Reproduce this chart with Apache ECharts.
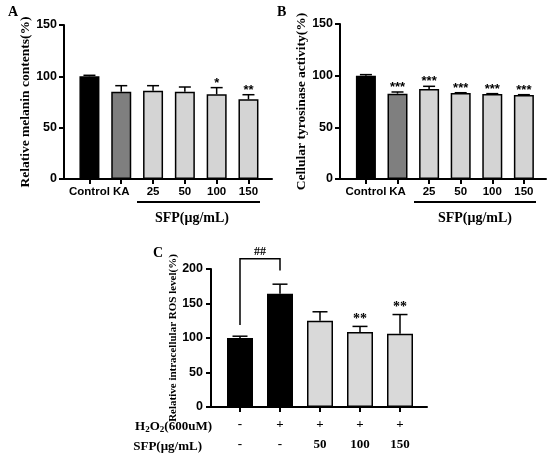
<!DOCTYPE html>
<html>
<head>
<meta charset="utf-8">
<script src="https://cdn.jsdelivr.net/npm/echarts@6/dist/echarts.min.js"></script>
<style>
  html, body { margin: 0; padding: 0; background: #fff; }
  #main { width: 550px; height: 455px; }
</style>
</head>
<body>
<div id="main"></div>
<script>
// panel A / B categories
var groupsAB = ["Control", "KA", "25", "50", "100", "150"];
// panel A: melanin contents
var meanA = [100, 85, 86, 85, 82.5, 77.6];
var errA = [1, 5.9, 4.9, 4.6, 6.5, 4.5];
var starA = ["", "", "", "", "*", "**"];
// panel B: tyrosinase activity
var meanB = [100, 82.6, 87.1, 83.2, 82.3, 81.3];
var errB = [1, 1.6, 2.6, 0.3, 0.3, 0.3];
var starB = ["", "***", "***", "***", "***", "***"];
// panel C: ROS level
var h2o2C = ["-", "+", "+", "+", "+"];
var sfpC = ["-", "-", "50", "100", "150"];
var meanC = [100, 164, 125, 108.8, 106];
var errC = [2.6, 14, 13, 8, 28];
var starC = ["", "", "", "**", "**"];
var bracketC = [0, 1, 119, 198, 215]; // from bar, to bar, left leg bottom, right leg bottom, top

var colorsAB = ["#000000", "#7f7f7f", "#d4d4d4", "#d4d4d4", "#d4d4d4", "#d4d4d4"];
var colorsC = ["#000000", "#000000", "#d9d9d9", "#d9d9d9", "#d9d9d9"];

var serif = "Liberation Serif";
var sans = "Liberation Sans";

var chart = echarts.init(document.getElementById("main"));

function idx(n) {
  var a = [];
  for (var i = 0; i < n; i++) a.push(i);
  return a;
}

function xAxisFor(gi, n, min, max, labels, labelOpt) {
  return {
    type: "value", gridIndex: gi, min: min, max: max,
    splitLine: { show: false },
    axisLine: { show: true, onZero: false, lineStyle: { color: "#000", width: 2 } },
    axisTick: { show: true, customValues: idx(n), length: 5, lineStyle: { color: "#000", width: 2 } },
    axisLabel: Object.assign({
      customValues: idx(n),
      formatter: function (v) { return labels(Math.round(v)); },
      color: "#000", fontFamily: sans, fontWeight: "bold", fontSize: 11.5, margin: 7
    }, labelOpt || {})
  };
}

function yAxisFor(gi, max, interval, name, nameSize, nameGap, labelMargin) {
  return {
    type: "value", gridIndex: gi, min: 0, max: max, interval: interval,
    name: name, nameLocation: "middle", nameGap: nameGap,
    nameTextStyle: { color: "#000", fontFamily: serif, fontWeight: "bold", fontSize: nameSize },
    splitLine: { show: false },
    axisLine: { show: true, onZero: false, lineStyle: { color: "#000", width: 2 } },
    axisTick: { show: true, length: 5, lineStyle: { color: "#000", width: 2 } },
    axisLabel: { color: "#000", fontFamily: sans, fontWeight: "bold", fontSize: 12.5, margin: labelMargin }
  };
}

function barSeries(gi, means, colors, width) {
  return {
    type: "bar", xAxisIndex: gi, yAxisIndex: gi, barWidth: width,
    data: means.map(function (v, i) {
      return { value: [i, v], itemStyle: { color: colors[i], borderColor: "#000", borderWidth: 1.5 } };
    }),
    z: 2
  };
}

function errSeries(gi, means, errs, stars, cap, starFont, starSize, starGap) {
  return {
    type: "custom", xAxisIndex: gi, yAxisIndex: gi, z: 3,
    data: means.map(function (v, i) { return [i, v, v + errs[i]]; }),
    renderItem: function (params, api) {
      var i = api.value(0);
      var base = api.coord([i, api.value(1)]);
      var top = api.coord([i, api.value(2)]);
      var children = [
        { type: "line", shape: { x1: base[0], y1: base[1], x2: top[0], y2: top[1] }, style: { stroke: "#000", lineWidth: 1.5 } },
        { type: "line", shape: { x1: top[0] - cap / 2, y1: top[1], x2: top[0] + cap / 2, y2: top[1] }, style: { stroke: "#000", lineWidth: 1.5 } }
      ];
      if (stars[i]) {
        children.push({
          type: "text",
          style: {
            x: top[0], y: top[1] - starGap, text: stars[i], align: "center", verticalAlign: "bottom",
            fill: "#000", font: "bold " + starSize + "px " + starFont
          }
        });
      }
      return { type: "group", children: children };
    }
  };
}

var option = {
  animation: false,
  backgroundColor: "#fff",
  grid: [
    { left: 64, top: 25, width: 208, height: 154 },
    { left: 340, top: 24, width: 206, height: 155 },
    { left: 211, top: 269, width: 216, height: 141 }
  ],
  xAxis: [
    xAxisFor(0, 6, -0.8, 5.74, function (i) { return groupsAB[i]; }),
    xAxisFor(1, 6, -0.82, 5.7, function (i) { return groupsAB[i]; }),
    xAxisFor(2, 5, -0.725, 4.675, function (i) { return h2o2C[i] + "\n" + sfpC[i]; },
      { fontFamily: serif, fontSize: 13, lineHeight: 20, margin: 8 })
  ],
  yAxis: [
    yAxisFor(0, 150, 50, "Relative melanin contents(%)", 13.5, 29, 7),
    yAxisFor(1, 150, 50, "Cellular tyrosinase activity(%)", 13.5, 30, 7),
    yAxisFor(2, 200, 50, "Relative intracellular ROS level(%)", 11, 27, 8)
  ],
  series: [
    barSeries(0, meanA, colorsAB, 20),
    errSeries(0, meanA, errA, starA, 12, sans, 13, -2),
    barSeries(1, meanB, colorsAB, 20),
    errSeries(1, meanB, errB, starB, 12, sans, 13, -2),
    barSeries(2, meanC, colorsC, 26),
    errSeries(2, meanC, errC, starC, 15, serif, 14, 0),
    {
      type: "custom", xAxisIndex: 2, yAxisIndex: 2, z: 3, clip: false,
      data: [bracketC],
      renderItem: function (params, api) {
        var a = api.coord([api.value(0), api.value(2)]);
        var aTop = api.coord([api.value(0), api.value(4)]);
        var bTop = api.coord([api.value(1), api.value(4)]);
        var b = api.coord([api.value(1), api.value(3)]);
        return {
          type: "group",
          children: [
            { type: "polyline", shape: { points: [a, aTop, bTop, b] }, style: { stroke: "#000", lineWidth: 1.5, fill: null } },
            { type: "text", style: { x: (aTop[0] + bTop[0]) / 2, y: aTop[1] - 1, text: "##", align: "center", verticalAlign: "bottom", fill: "#000", font: "bold 12px " + serif } }
          ]
        };
      }
    }
  ],
  graphic: [
    { type: "text", left: 8, top: 5, style: { text: "A", font: "bold 14px " + serif, fill: "#000" } },
    { type: "text", left: 277, top: 5, style: { text: "B", font: "bold 14px " + serif, fill: "#000" } },
    { type: "text", left: 153, top: 246, style: { text: "C", font: "bold 14px " + serif, fill: "#000" } },
    { type: "line", shape: { x1: 137, y1: 202, x2: 260, y2: 202 }, style: { stroke: "#000", lineWidth: 2 } },
    { type: "line", shape: { x1: 414, y1: 202, x2: 536, y2: 202 }, style: { stroke: "#000", lineWidth: 2 } },
    { type: "text", x: 192, y: 218, style: { text: "SFP(μg/mL)", align: "center", verticalAlign: "middle", font: "bold 14px " + serif, fill: "#000" } },
    { type: "text", x: 475, y: 218, style: { text: "SFP(μg/mL)", align: "center", verticalAlign: "middle", font: "bold 14px " + serif, fill: "#000" } },
    {
      type: "text", x: 212, y: 427,
      style: {
        text: "H{s|2}O{s|2}(600uM)", align: "right", verticalAlign: "middle",
        fontFamily: serif, fontWeight: "bold", fontSize: 13, fill: "#000",
        rich: { s: { fontFamily: serif, fontWeight: "bold", fontSize: 9, fill: "#000", verticalAlign: "bottom", padding: [5, 0, 0, 0] } }
      }
    },
    { type: "text", x: 202, y: 447, style: { text: "SFP(μg/mL)", align: "right", verticalAlign: "middle", font: "bold 13px " + serif, fill: "#000" } }
  ]
};

chart.setOption(option);
</script>
</body>
</html>
